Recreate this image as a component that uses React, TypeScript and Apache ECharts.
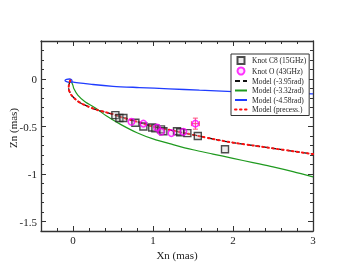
import React, { useEffect, useRef } from "react";
import * as echarts from "echarts";

const xMajor = [0, 1, 2, 3];
const xMinor = [-0.2, 0.2, 0.4, 0.6, 0.8, 1.2, 1.4, 1.6, 1.8, 2.2, 2.4, 2.6, 2.8];
const yMajor = [0, -0.5, -1, -1.5];
const yMinor = [0.3, 0.2, 0.1, -0.1, -0.2, -0.3, -0.4, -0.6, -0.7, -0.8, -0.9, -1.1, -1.2, -1.3, -1.4];

const legendNames = [
  "Knot C8 (15GHz)",
  "Knot O (43GHz)",
  "Model (-3.95rad)",
  "Model (-3.32rad)",
  "Model (-4.58rad)",
  "Model (precess.)",
];

const knotC8X = [0.53, 0.58, 0.63, 0.78, 0.88, 0.99, 1.03, 1.1, 1.13, 1.3, 1.34, 1.43, 1.56, 1.9];
const knotC8Y = [-0.38, -0.41, -0.41, -0.46, -0.5, -0.51, -0.52, -0.53, -0.55, -0.55, -0.56, -0.57, -0.6, -0.74];

const knotOX = [0.73, 0.88, 1.05, 1.1, 1.23, 1.38, 1.53];
const knotOY = [-0.45, -0.47, -0.51, -0.555, -0.57, -0.555, -0.47];
const knotOXErr = [0, 0, 0, 0, 0, 0, 0.05];
const knotOYErr = [0, 0, 0, 0, 0, 0, 0.058];

const model395 = [
  [-0.035, -0.015], [-0.05, -0.06], [-0.054, -0.1], [-0.04, -0.14], [-0.02, -0.17], [0.04, -0.22],
  [0.1, -0.255], [0.19, -0.29], [0.3, -0.325], [0.4, -0.348], [0.5, -0.37], [0.6, -0.4],
  [0.8, -0.45], [1.0, -0.5], [1.2, -0.535], [1.4, -0.57], [1.6, -0.605], [1.8, -0.64],
  [2.0, -0.67], [2.25, -0.7], [2.5, -0.73], [2.75, -0.76], [3.0, -0.79],
];
const model332 = [
  [-0.02, -0.03], [0.0, -0.07], [0.01, -0.1], [0.06, -0.17], [0.15, -0.24], [0.27, -0.3],
  [0.42, -0.39], [0.6, -0.48], [0.8, -0.565], [1.0, -0.63], [1.25, -0.69],
  [1.5, -0.745], [1.75, -0.79], [2.0, -0.835], [2.25, -0.88], [2.5, -0.925], [2.75, -0.975], [3.0, -1.03],
];
const model458 = [
  [-0.01, -0.03], [-0.045, -0.035], [-0.08, -0.028], [-0.1, -0.016], [-0.08, -0.004], [-0.045, 0.0],
  [-0.018, -0.008], [-0.012, -0.022], [-0.01, -0.03], [0.25, -0.058], [0.5, -0.077], [0.83, -0.09],
  [1.2, -0.103], [1.58, -0.118], [2.0, -0.132], [2.5, -0.145], [3.0, -0.157],
];
const modelPrecess = [
  [-0.035, -0.015], [-0.05, -0.06], [-0.054, -0.1], [-0.04, -0.14], [-0.02, -0.17], [0.04, -0.22],
  [0.1, -0.255], [0.19, -0.29], [0.3, -0.325], [0.4, -0.348], [0.5, -0.37], [0.6, -0.4],
  [0.8, -0.45], [1.0, -0.5], [1.2, -0.535], [1.4, -0.57], [1.6, -0.605], [1.8, -0.64],
  [2.0, -0.67], [2.25, -0.7], [2.5, -0.73], [2.75, -0.76], [3.0, -0.79],
];

const FONT = "'Liberation Serif', 'DejaVu Serif', serif";
const AXIS_COLOR = "#333";
const SQUARE_ICON = "path://M0,0h10v10h-10z";

export default function App() {
  const ref = useRef<HTMLDivElement>(null);
  useEffect(() => {
    if (!ref.current) return;
    const chart = echarts.init(ref.current, null, { renderer: "svg" });
    const X_MIN = -0.4, X_MAX = 3, Y_MIN = -1.6, Y_MAX = 0.4;
    const baseX = (pos: string, vals: number[], len: number, labels: boolean, line: boolean, extra: any = {}) => ({
      type: "value",
      position: pos,
      min: X_MIN,
      max: X_MAX,
      axisLine: { show: line, onZero: false, lineStyle: { color: AXIS_COLOR, width: 1.3 } },
      axisTick: { show: true, inside: true, length: len, customValues: vals, lineStyle: { color: AXIS_COLOR, width: 1 } },
      axisLabel: {
        show: labels,
        customValues: vals,
        fontFamily: FONT,
        fontSize: 11,
        color: "#222",
        margin: 3,
      },
      splitLine: { show: false },
      ...extra,
    });
    const baseY = (pos: string, vals: number[], len: number, labels: boolean, line: boolean) => ({
      type: "value",
      position: pos,
      min: Y_MIN,
      max: Y_MAX,
      axisLine: { show: line, onZero: false, lineStyle: { color: AXIS_COLOR, width: 1.3 } },
      axisTick: { show: true, inside: true, length: len, customValues: vals, lineStyle: { color: AXIS_COLOR, width: 1 } },
      axisLabel: {
        show: labels,
        customValues: vals,
        fontFamily: FONT,
        fontSize: 11,
        color: "#222",
        margin: 4,
      },
      splitLine: { show: false },
    });

    const c8Data = knotC8X.map((x, i) => [x, knotC8Y[i]]);
    const oData = knotOX.map((x, i) => [x, knotOY[i]]);
    const oErr = knotOX.map((x, i) => [x, knotOY[i], knotOXErr[i], knotOYErr[i]]);

    const lineLegend = (name: string) => ({ name, itemStyle: { opacity: 0 } });

    chart.setOption({
      animation: false,
      grid: { left: 41, top: 41, right: 40, bottom: 42, containLabel: false },
      xAxis: [
        baseX("bottom", xMajor, 5, true, true, {
          name: "Xn (mas)",
          nameLocation: "middle",
          nameGap: 13,
          nameTextStyle: { fontFamily: FONT, fontSize: 11, color: "#222" },
        }),
        baseX("bottom", xMinor, 3, false, false),
        baseX("top", xMajor, 5, false, true),
        baseX("top", xMinor, 3, false, false),
      ],
      yAxis: [
        baseY("left", yMajor, 5, true, true),
        baseY("left", yMinor, 3, false, false),
        baseY("right", yMajor, 5, false, true),
        baseY("right", yMinor, 3, false, false),
      ],
      legend: {
        orient: "vertical",
        left: 231,
        top: 54,
        padding: [2, 3, 2, 3],
        borderColor: "#333",
        borderWidth: 1,
        backgroundColor: "#fff",
        itemWidth: 12,
        itemHeight: 7,
        itemGap: 1.5,
        textStyle: { fontFamily: FONT, fontSize: 7.5, color: "#222" },
        data: [
          { name: legendNames[0], icon: SQUARE_ICON },
          { name: legendNames[1], icon: "circle" },
          lineLegend(legendNames[2]),
          lineLegend(legendNames[3]),
          lineLegend(legendNames[4]),
          lineLegend(legendNames[5]),
        ],
      },
      graphic: [
        {
          type: "text",
          x: 13,
          y: 128,
          rotation: Math.PI / 2,
          style: {
            text: "Zn (mas)",
            font: `11px ${FONT}`,
            fill: "#222",
            align: "center",
            verticalAlign: "middle",
          },
        },
      ],
      series: [
        {
          name: legendNames[3],
          type: "line",
          data: model332,
          symbol: "none",
          smooth: 0.3,
          itemStyle: { color: "#1f9a1f" },
          lineStyle: { color: "#1f9a1f", width: 1.2 },
          z: 2,
        },
        {
          name: legendNames[4],
          type: "line",
          data: model458,
          symbol: "none",
          smooth: 0.3,
          itemStyle: { color: "#1f3cff" },
          lineStyle: { color: "#1f3cff", width: 1.3 },
          z: 2,
        },
        {
          name: legendNames[2],
          type: "line",
          data: model395,
          symbol: "none",
          smooth: 0.3,
          itemStyle: { color: "#111" },
          lineStyle: { color: "#111", width: 1.3, type: [5, 3] },
          z: 3,
        },
        {
          name: legendNames[5],
          type: "line",
          data: modelPrecess,
          symbol: "none",
          smooth: 0.3,
          itemStyle: { color: "#ff1010" },
          lineStyle: { color: "#ff1010", width: 2, type: [1.5, 3.5], cap: "round" },
          z: 4,
        },
        {
          name: legendNames[0],
          type: "scatter",
          data: c8Data,
          symbol: "rect",
          symbolSize: 7,
          itemStyle: { color: "rgba(190,190,190,0.35)", borderColor: "#222", borderWidth: 1.4 },
          z: 5,
        },
        {
          type: "custom",
          data: oErr,
          renderItem: (params: any, api: any) => {
            const x = api.value(0), y = api.value(1), ex = api.value(2), ey = api.value(3);
            if (!ex && !ey) return null;
            const l = api.coord([x - ex, y]);
            const r = api.coord([x + ex, y]);
            const t = api.coord([x, y + ey]);
            const b = api.coord([x, y - ey]);
            const st = { stroke: "#ff4f7a", lineWidth: 1 };
            const cap = 2.5;
            return {
              type: "group",
              children: [
                { type: "line", shape: { x1: l[0], y1: l[1], x2: r[0], y2: r[1] }, style: st },
                { type: "line", shape: { x1: t[0], y1: t[1], x2: b[0], y2: b[1] }, style: st },
                { type: "line", shape: { x1: l[0], y1: l[1] - cap, x2: l[0], y2: l[1] + cap }, style: st },
                { type: "line", shape: { x1: r[0], y1: r[1] - cap, x2: r[0], y2: r[1] + cap }, style: st },
                { type: "line", shape: { x1: t[0] - cap, y1: t[1], x2: t[0] + cap, y2: t[1] }, style: st },
                { type: "line", shape: { x1: b[0] - cap, y1: b[1], x2: b[0] + cap, y2: b[1] }, style: st },
              ],
            };
          },
          z: 5,
        },
        {
          name: legendNames[1],
          type: "scatter",
          data: oData,
          symbol: "circle",
          symbolSize: 6.5,
          itemStyle: { color: "rgba(255,0,255,0.15)", borderColor: "#ff00ff", borderWidth: 1.5 },
          z: 6,
        },
      ],
    });
    return () => chart.dispose();
  }, []);
  return <div ref={ref} style={{ position: "fixed", left: 0, top: 0, width: 353, height: 273 }} />;
}
